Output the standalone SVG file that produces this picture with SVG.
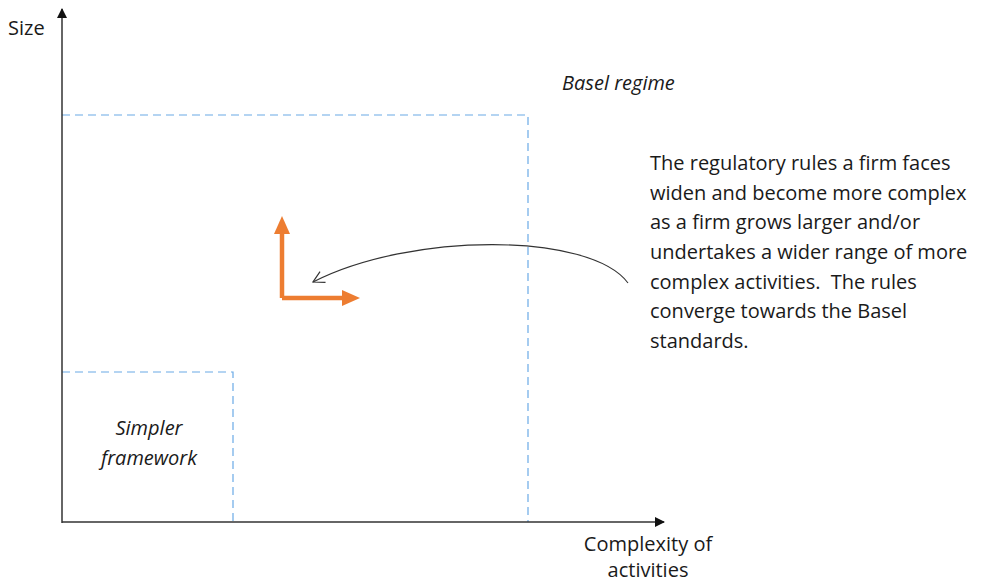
<svg xmlns="http://www.w3.org/2000/svg" width="995" height="584" viewBox="0 0 995 584">
<style>
text{font-family:"Open Sans","Liberation Sans",sans-serif;fill:#1a1a1a;font-size:20px;white-space:pre}
.it{font-style:italic}
.dash{fill:none;stroke:#6aaae6;stroke-width:1.2;stroke-dasharray:8,5}
.axis{stroke:#333;stroke-width:1.5;fill:none}
</style>
<defs>
<marker id="ah" markerWidth="10" markerHeight="10" refX="9" refY="5" orient="auto" markerUnits="userSpaceOnUse"><path d="M0,0 L10,5 L0,10 Z" fill="#111"/></marker>
<marker id="oh" markerWidth="18" markerHeight="16" refX="2" refY="8" orient="auto" markerUnits="userSpaceOnUse"><path d="M0,0 L18,8 L0,16 Z" fill="#ed7d31"/></marker>
<marker id="open" markerWidth="14" markerHeight="14" refX="12" refY="7" orient="auto" markerUnits="userSpaceOnUse"><path d="M1,1 L12,7 L1,13" fill="none" stroke="#333" stroke-width="1.2"/></marker>
</defs>
<rect width="995" height="584" fill="#fff"/>
<g id="regions">
<path class="dash" d="M62,115 H528 V522"/>
<path class="dash" d="M62,372 H233 V522"/>
</g>
<g id="axes">
<line class="axis" x1="62" y1="523" x2="62" y2="9" marker-end="url(#ah)"/>
<line class="axis" x1="62" y1="522" x2="664" y2="522" marker-end="url(#ah)"/>
</g>
<g id="connectors">
<path d="M282,298 V232" stroke="#ed7d31" stroke-width="4.5" fill="none" marker-end="url(#oh)"/>
<path d="M282,298 H344" stroke="#ed7d31" stroke-width="4.5" fill="none" marker-end="url(#oh)"/>
<path d="M628,283 C590,232 410,232 313,282" stroke="#333" stroke-width="1.1" fill="none" marker-end="url(#open)"/>
</g>
<g id="labels">
<text x="8" y="35">Size</text>
<text class="it" x="562" y="90">Basel regime</text>
<text class="it" x="149" y="435" text-anchor="middle">Simpler</text>
<text class="it" x="149" y="465" text-anchor="middle">framework</text>
<text x="648" y="551" text-anchor="middle">Complexity of</text>
<text x="648" y="577" text-anchor="middle">activities</text>
</g>
<g id="note">
<text x="650" y="170">The regulatory rules a firm faces</text>
<text x="650" y="200">widen and become more complex</text>
<text x="650" y="229">as a firm grows larger and/or</text>
<text x="650" y="259">undertakes a wider range of more</text>
<text x="650" y="289">complex activities.  The rules</text>
<text x="650" y="318">converge towards the Basel</text>
<text x="650" y="348">standards.</text>
</g>
</svg>
